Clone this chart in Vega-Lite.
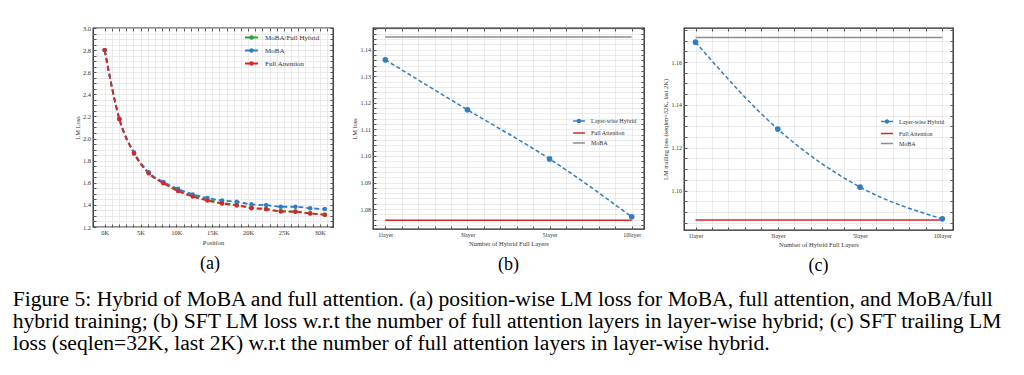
{
  "$schema": "https://vega.github.io/schema/vega-lite/v6.json",
  "background": "white",
  "padding": {"left": 12, "top": 24, "right": 5, "bottom": 5},
  "spacing": 15,
  "resolve": {"scale": {"color": "independent", "fill": "independent"}, "legend": {"color": "independent"}},
  "config": {
    "font": "Liberation Serif",
    "view": {"stroke": "#222", "strokeWidth": 1.3},
    "axis": {
      "domain": false, "grid": true, "gridColor": "#e2e2e2", "gridWidth": 0.7,
      "tickColor": "#333", "tickSize": -3, "tickWidth": 0.8, "labelPadding": 5.5,
      "labelFont": "Liberation Serif", "labelFontSize": 6.5, "labelColor": "#333",
      "titleFont": "Liberation Serif", "titleFontSize": 6.5, "titleFontWeight": "normal", "titleColor": "#333",
      "titlePadding": 3, "labelFlush": false, "labelOverlap": false
    },
    "legend": {"padding": 0, "labelFont": "Liberation Serif", "labelColor": "#333", "title": null}
  },
  "title": {
    "text": [
      "Figure 5: Hybrid of MoBA and full attention. (a) position-wise LM loss for MoBA, full attention, and MoBA/full",
      "hybrid training; (b) SFT LM loss w.r.t the number of full attention layers in layer-wise hybrid; (c) SFT trailing LM",
      "loss (seqlen=32K, last 2K) w.r.t the number of full attention layers in layer-wise hybrid."
    ],
    "orient": "bottom", "anchor": "start", "font": "Liberation Serif", "fontSize": 21.6, "fontWeight": "normal",
    "lineHeight": 22, "color": "black", "offset": 13, "dx": -61
  },
  "hconcat": [
    {
      "width": 240, "height": 199,
      "title": {"text": "(a)", "orient": "bottom", "font": "Liberation Serif", "fontSize": 18, "fontWeight": "normal", "offset": 9, "color": "black", "dx": -3},
      "data": {"values": [
        {"series": "MoBA/Full Hybrid", "pos": 0, "loss": 2.80},
        {"series": "MoBA/Full Hybrid", "pos": 2048, "loss": 2.178},
        {"series": "MoBA/Full Hybrid", "pos": 4096, "loss": 1.870},
        {"series": "MoBA/Full Hybrid", "pos": 6144, "loss": 1.690},
        {"series": "MoBA/Full Hybrid", "pos": 8192, "loss": 1.600},
        {"series": "MoBA/Full Hybrid", "pos": 10240, "loss": 1.532},
        {"series": "MoBA/Full Hybrid", "pos": 12288, "loss": 1.482},
        {"series": "MoBA/Full Hybrid", "pos": 14336, "loss": 1.447},
        {"series": "MoBA/Full Hybrid", "pos": 16384, "loss": 1.418},
        {"series": "MoBA/Full Hybrid", "pos": 18432, "loss": 1.400},
        {"series": "MoBA/Full Hybrid", "pos": 20480, "loss": 1.376},
        {"series": "MoBA/Full Hybrid", "pos": 22528, "loss": 1.364},
        {"series": "MoBA/Full Hybrid", "pos": 24576, "loss": 1.344},
        {"series": "MoBA/Full Hybrid", "pos": 26624, "loss": 1.340},
        {"series": "MoBA/Full Hybrid", "pos": 28672, "loss": 1.324},
        {"series": "MoBA/Full Hybrid", "pos": 30720, "loss": 1.312},
        {"series": "MoBA", "pos": 0, "loss": 2.80},
        {"series": "MoBA", "pos": 2048, "loss": 2.180},
        {"series": "MoBA", "pos": 4096, "loss": 1.875},
        {"series": "MoBA", "pos": 6144, "loss": 1.695},
        {"series": "MoBA", "pos": 8192, "loss": 1.607},
        {"series": "MoBA", "pos": 10240, "loss": 1.545},
        {"series": "MoBA", "pos": 12288, "loss": 1.495},
        {"series": "MoBA", "pos": 14336, "loss": 1.463},
        {"series": "MoBA", "pos": 16384, "loss": 1.440},
        {"series": "MoBA", "pos": 18432, "loss": 1.428},
        {"series": "MoBA", "pos": 20480, "loss": 1.405},
        {"series": "MoBA", "pos": 22528, "loss": 1.398},
        {"series": "MoBA", "pos": 24576, "loss": 1.383},
        {"series": "MoBA", "pos": 26624, "loss": 1.383},
        {"series": "MoBA", "pos": 28672, "loss": 1.370},
        {"series": "MoBA", "pos": 30720, "loss": 1.362},
        {"series": "Full Attention", "pos": 0, "loss": 2.80},
        {"series": "Full Attention", "pos": 2048, "loss": 2.175},
        {"series": "Full Attention", "pos": 4096, "loss": 1.865},
        {"series": "Full Attention", "pos": 6144, "loss": 1.685},
        {"series": "Full Attention", "pos": 8192, "loss": 1.595},
        {"series": "Full Attention", "pos": 10240, "loss": 1.525},
        {"series": "Full Attention", "pos": 12288, "loss": 1.475},
        {"series": "Full Attention", "pos": 14336, "loss": 1.440},
        {"series": "Full Attention", "pos": 16384, "loss": 1.412},
        {"series": "Full Attention", "pos": 18432, "loss": 1.395},
        {"series": "Full Attention", "pos": 20480, "loss": 1.370},
        {"series": "Full Attention", "pos": 22528, "loss": 1.360},
        {"series": "Full Attention", "pos": 24576, "loss": 1.340},
        {"series": "Full Attention", "pos": 26624, "loss": 1.337},
        {"series": "Full Attention", "pos": 28672, "loss": 1.322},
        {"series": "Full Attention", "pos": 30720, "loss": 1.310}
      ]},
      "resolve": {"axis": {"x": "independent", "y": "independent"}},
      "layer": [
        {"mark": {"type": "line", "strokeDash": [5, 3], "strokeWidth": 1.8, "interpolate": "monotone"},
         "encoding": {
           "x": {"field": "pos", "type": "quantitative",
             "scale": {"domain": [-1630, 31860], "nice": false, "zero": false},
             "axis": {"title": "Position", "values": [0,1000,2000,3000,4000,5000,6000,7000,8000,9000,10000,11000,12000,13000,14000,15000,16000,17000,18000,19000,20000,21000,22000,23000,24000,25000,26000,27000,28000,29000,30000,31000],
               "labelExpr": "datum.value % 5000 === 0 ? (datum.value/1000) + 'K' : ''"}},
           "y": {"field": "loss", "type": "quantitative",
             "scale": {"domain": [1.2, 3.0], "nice": false, "zero": false},
             "axis": {"title": "LM Loss", "titlePadding": 2, "values": [1.2,1.25,1.3,1.35,1.4,1.45,1.5,1.55,1.6,1.65,1.7,1.75,1.8,1.85,1.9,1.95,2.0,2.05,2.1,2.15,2.2,2.25,2.3,2.35,2.4,2.45,2.5,2.55,2.6,2.65,2.7,2.75,2.8,2.85,2.9,2.95,3.0],
               "labelExpr": "abs(datum.value*5 - round(datum.value*5)) < 0.001 ? format(datum.value, '.1f') : ''"}},
           "color": {"field": "series", "type": "nominal",
            "scale": {"domain": ["MoBA/Full Hybrid", "MoBA", "Full Attention"], "range": ["#2ca02c", "#2f7ec2", "#d62728"]},
            "legend": {"orient": "none", "legendX": 151, "legendY": 2, "symbolType": "M-1,0H1M0.2,0A0.2,0.2,0,1,1,-0.2,0A0.2,0.2,0,1,1,0.2,0Z", "symbolSize": 170, "symbolStrokeWidth": 1.8, "labelFontSize": 7, "rowPadding": -3.5, "labelOffset": 6}}}},
        {"mark": {"type": "point", "filled": true, "size": 20, "opacity": 1},
         "encoding": {
           "x": {"field": "pos", "type": "quantitative",
             "axis": {"orient": "top", "title": null, "labels": false, "grid": false, "values": [0,1000,2000,3000,4000,5000,6000,7000,8000,9000,10000,11000,12000,13000,14000,15000,16000,17000,18000,19000,20000,21000,22000,23000,24000,25000,26000,27000,28000,29000,30000,31000]}},
           "y": {"field": "loss", "type": "quantitative",
             "axis": {"orient": "right", "title": null, "labels": false, "grid": false, "values": [1.2,1.25,1.3,1.35,1.4,1.45,1.5,1.55,1.6,1.65,1.7,1.75,1.8,1.85,1.9,1.95,2.0,2.05,2.1,2.15,2.2,2.25,2.3,2.35,2.4,2.45,2.5,2.55,2.6,2.65,2.7,2.75,2.8,2.85,2.9,2.95,3.0]}},
           "fill": {"field": "series", "type": "nominal",
            "scale": {"domain": ["MoBA/Full Hybrid", "MoBA", "Full Attention"], "range": ["#2ca02c", "#2f7ec2", "#d62728"]},
            "legend": null}}}
      ]
    },
    {
      "width": 271, "height": 201,
      "title": {"text": "(b)", "orient": "bottom", "font": "Liberation Serif", "fontSize": 18, "fontWeight": "normal", "offset": 9, "color": "black"},
      "data": {"values": [
        {"series": "Layer-wise Hybrid", "layers": "1layer", "idx": 0, "loss": 1.1362},
        {"series": "Layer-wise Hybrid", "layers": "3layer", "idx": 1, "loss": 1.1174},
        {"series": "Layer-wise Hybrid", "layers": "5layer", "idx": 2, "loss": 1.0989},
        {"series": "Layer-wise Hybrid", "layers": "10layer", "idx": 3, "loss": 1.0771},
        {"series": "Full Attention", "layers": "1layer", "idx": 0, "loss": 1.0758},
        {"series": "Full Attention", "layers": "10layer", "idx": 3, "loss": 1.0758},
        {"series": "MoBA", "layers": "1layer", "idx": 0, "loss": 1.1448},
        {"series": "MoBA", "layers": "10layer", "idx": 3, "loss": 1.1448}
      ]},
      "resolve": {"axis": {"x": "independent", "y": "independent"}},
      "layer": [
        {"mark": {"type": "line", "strokeWidth": 1.5, "interpolate": "monotone"},
         "encoding": {
           "x": {"field": "idx", "type": "quantitative",
             "scale": {"domain": [-0.15, 3.15], "nice": false, "zero": false},
             "axis": {"title": "Number of Hybrid Full Layers", "values": [0,0.2,0.4,0.6,0.8,1,1.2,1.4,1.6,1.8,2,2.2,2.4,2.6,2.8,3],
               "labelFontSize": 6,
               "labelExpr": "datum.value === 0 ? '1layer' : datum.value === 1 ? '3layer' : datum.value === 2 ? '5layer' : datum.value === 3 ? '10layer' : ''"}},
           "y": {"field": "loss", "type": "quantitative",
             "scale": {"domain": [1.0725, 1.1482], "nice": false, "zero": false},
             "axis": {"title": "LM loss", "labelFontSize": 6, "values": [1.074,1.076,1.078,1.08,1.082,1.084,1.086,1.088,1.09,1.092,1.094,1.096,1.098,1.1,1.102,1.104,1.106,1.108,1.11,1.112,1.114,1.116,1.118,1.12,1.122,1.124,1.126,1.128,1.13,1.132,1.134,1.136,1.138,1.14,1.142,1.144,1.146,1.148],
               "labelExpr": "abs(datum.value*100 - round(datum.value*100)) < 0.001 ? format(datum.value, '.2f') : ''"}},
           "color": {"field": "series", "type": "nominal",
             "scale": {"domain": ["Layer-wise Hybrid", "Full Attention", "MoBA"], "range": ["#2f7ec2", "#d62728", "#8c8c8c"]},
             "legend": {"orient": "none", "legendX": 199, "legendY": 86, "symbolType": "stroke", "symbolSize": 140, "symbolStrokeWidth": 1.5, "labelFontSize": 6, "rowPadding": -5.5, "labelOffset": 5,
               "encode": {"symbols": {"update": {"shape": {"signal": "datum.value === 'Layer-wise Hybrid' ? 'M-1,0H1M0.25,0A0.25,0.25,0,1,1,-0.25,0A0.25,0.25,0,1,1,0.25,0Z' : 'stroke'"}}}}}},
           "strokeDash": {"condition": {"test": "datum.series === 'Layer-wise Hybrid'", "value": [4, 2.5]}, "value": [1, 0]}}},
        {"transform": [{"filter": "datum.series === 'Layer-wise Hybrid'"}],
         "mark": {"type": "point", "filled": true, "size": 32, "opacity": 1},
         "encoding": {
           "x": {"field": "idx", "type": "quantitative",
             "axis": {"orient": "top", "title": null, "labels": false, "grid": false, "values": [0,0.2,0.4,0.6,0.8,1,1.2,1.4,1.6,1.8,2,2.2,2.4,2.6,2.8,3]}},
           "y": {"field": "loss", "type": "quantitative",
             "axis": {"orient": "right", "title": null, "labels": false, "grid": false, "values": [1.074,1.076,1.078,1.08,1.082,1.084,1.086,1.088,1.09,1.092,1.094,1.096,1.098,1.1,1.102,1.104,1.106,1.108,1.11,1.112,1.114,1.116,1.118,1.12,1.122,1.124,1.126,1.128,1.13,1.132,1.134,1.136,1.138,1.14,1.142,1.144,1.146,1.148]}},
           "fill": {"field": "series", "type": "nominal",
            "scale": {"domain": ["Layer-wise Hybrid"], "range": ["#2f7ec2"]},
            "legend": null}}}
      ]
    },
    {
      "width": 269, "height": 202,
      "title": {"text": "(c)", "orient": "bottom", "font": "Liberation Serif", "fontSize": 18, "fontWeight": "normal", "offset": 9, "color": "black"},
      "data": {"values": [
        {"series": "Layer-wise Hybrid", "layers": "1layer", "idx": 0, "loss": 1.1693},
        {"series": "Layer-wise Hybrid", "layers": "3layer", "idx": 1, "loss": 1.1287},
        {"series": "Layer-wise Hybrid", "layers": "5layer", "idx": 2, "loss": 1.1016},
        {"series": "Layer-wise Hybrid", "layers": "10layer", "idx": 3, "loss": 1.0868},
        {"series": "Full Attention", "layers": "1layer", "idx": 0, "loss": 1.0863},
        {"series": "Full Attention", "layers": "10layer", "idx": 3, "loss": 1.0863},
        {"series": "MoBA", "layers": "1layer", "idx": 0, "loss": 1.1715},
        {"series": "MoBA", "layers": "10layer", "idx": 3, "loss": 1.1715}
      ]},
      "resolve": {"axis": {"x": "independent", "y": "independent"}},
      "layer": [
        {"mark": {"type": "line", "strokeWidth": 1.5, "interpolate": "monotone"},
         "encoding": {
           "x": {"field": "idx", "type": "quantitative",
             "scale": {"domain": [-0.14, 3.13], "nice": false, "zero": false},
             "axis": {"title": "Number of Hybrid Full Layers", "values": [0,0.2,0.4,0.6,0.8,1,1.2,1.4,1.6,1.8,2,2.2,2.4,2.6,2.8,3],
               "labelFontSize": 6,
               "labelExpr": "datum.value === 0 ? '1layer' : datum.value === 1 ? '3layer' : datum.value === 2 ? '5layer' : datum.value === 3 ? '10layer' : ''"}},
           "y": {"field": "loss", "type": "quantitative",
             "scale": {"domain": [1.0816, 1.1759], "nice": false, "zero": false},
             "axis": {"title": "LM trailing loss (seqlen=32K, last 2K)", "labelFontSize": 6, "values": [1.085,1.09,1.095,1.1,1.105,1.11,1.115,1.12,1.125,1.13,1.135,1.14,1.145,1.15,1.155,1.16,1.165,1.17,1.175],
               "labelExpr": "abs(datum.value*50 - round(datum.value*50)) < 0.001 ? format(datum.value, '.2f') : ''"}},
           "color": {"field": "series", "type": "nominal",
             "scale": {"domain": ["Layer-wise Hybrid", "Full Attention", "MoBA"], "range": ["#2f7ec2", "#d62728", "#8c8c8c"]},
             "legend": {"orient": "none", "legendX": 196, "legendY": 86.5, "symbolType": "stroke", "symbolSize": 144, "symbolStrokeWidth": 1.5, "labelFontSize": 6, "rowPadding": -5.5, "labelOffset": 5,
               "encode": {"symbols": {"update": {"shape": {"signal": "datum.value === 'Layer-wise Hybrid' ? 'M-1,0H1M0.25,0A0.25,0.25,0,1,1,-0.25,0A0.25,0.25,0,1,1,0.25,0Z' : 'stroke'"}}}}}},
           "strokeDash": {"condition": {"test": "datum.series === 'Layer-wise Hybrid'", "value": [4, 2.5]}, "value": [1, 0]}}},
        {"transform": [{"filter": "datum.series === 'Layer-wise Hybrid'"}],
         "mark": {"type": "point", "filled": true, "size": 32, "opacity": 1},
         "encoding": {
           "x": {"field": "idx", "type": "quantitative",
             "axis": {"orient": "top", "title": null, "labels": false, "grid": false, "values": [0,0.2,0.4,0.6,0.8,1,1.2,1.4,1.6,1.8,2,2.2,2.4,2.6,2.8,3]}},
           "y": {"field": "loss", "type": "quantitative",
             "axis": {"orient": "right", "title": null, "labels": false, "grid": false, "values": [1.085,1.09,1.095,1.1,1.105,1.11,1.115,1.12,1.125,1.13,1.135,1.14,1.145,1.15,1.155,1.16,1.165,1.17,1.175]}},
           "fill": {"field": "series", "type": "nominal",
            "scale": {"domain": ["Layer-wise Hybrid"], "range": ["#2f7ec2"]},
            "legend": null}}}
      ]
    }
  ]
}
